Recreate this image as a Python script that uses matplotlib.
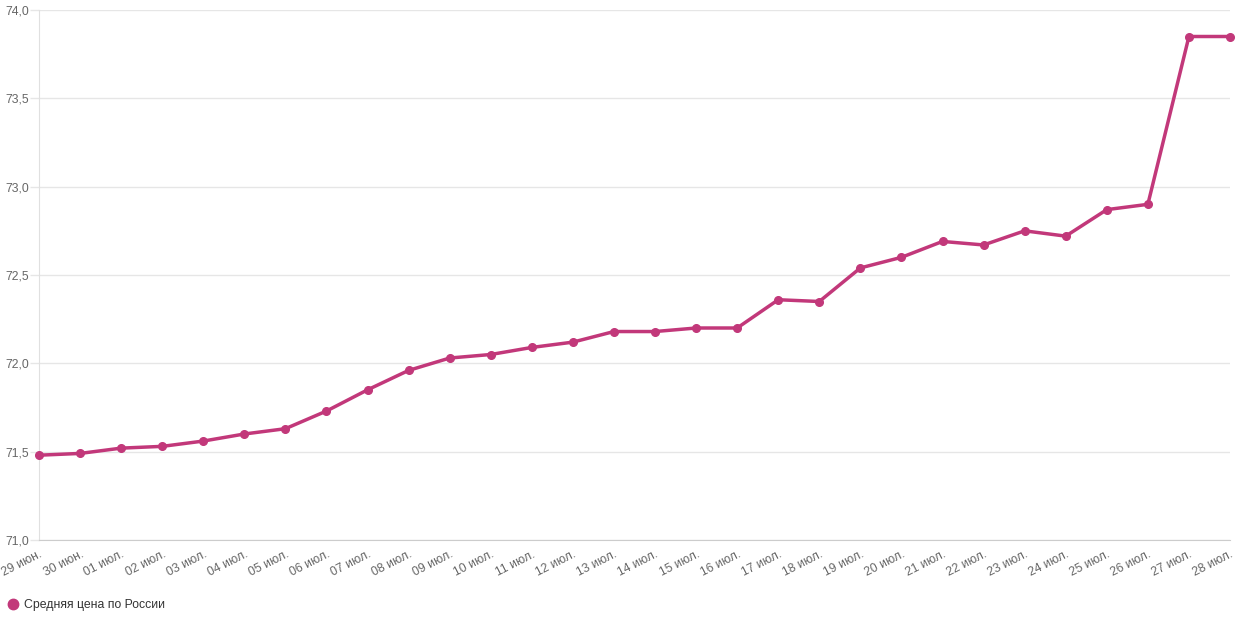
import matplotlib
matplotlib.use("Agg")
import matplotlib.pyplot as plt
from matplotlib.lines import Line2D

dates = ["29 июн.", "30 июн.", "01 июл.", "02 июл.", "03 июл.", "04 июл.", "05 июл.",
         "06 июл.", "07 июл.", "08 июл.", "09 июл.", "10 июл.", "11 июл.", "12 июл.",
         "13 июл.", "14 июл.", "15 июл.", "16 июл.", "17 июл.", "18 июл.", "19 июл.",
         "20 июл.", "21 июл.", "22 июл.", "23 июл.", "24 июл.", "25 июл.", "26 июл.",
         "27 июл.", "28 июл."]
prices = [71.48, 71.49, 71.52, 71.53, 71.56, 71.60, 71.63, 71.73, 71.85, 71.96,
          72.03, 72.05, 72.09, 72.12, 72.18, 72.18, 72.20, 72.20, 72.36, 72.35,
          72.54, 72.60, 72.69, 72.67, 72.75, 72.72, 72.87, 72.90, 73.85, 73.85]
yticks = [71.0, 71.5, 72.0, 72.5, 73.0, 73.5, 74.0]
series_name = "Средняя цена по России"

plt.rcParams['font.family'] = ['Liberation Sans', 'DejaVu Sans']
color = '#c2387a'
fs = 8.8

fig = plt.figure(figsize=(12.4, 6.2), dpi=100)
ax = fig.add_axes([39/1240, 80/620, (1230-39)/1240, 530/620])
x = list(range(len(prices)))
ax.plot(x, prices, color=color, lw=2.5, marker='o', ms=5.5, clip_on=False, zorder=3)
ax.set_xlim(0, len(prices) - 1)
ax.set_ylim(71.0, 74.0)
ax.set_yticks(yticks)
ax.set_yticklabels([f"{v:.1f}".replace('.', ',') for v in yticks])
ax.set_xticks(x)
ax.set_xticklabels(dates, rotation=27, ha='right', rotation_mode='anchor')
ax.grid(axis='y', color='#e6e6e6', lw=1)
ax.set_axisbelow(True)
for s in ['top', 'right']:
    ax.spines[s].set_visible(False)
ax.spines['left'].set_color('#e0e0e0')
ax.spines['bottom'].set_color('#cccccc')
ax.tick_params(axis='y', length=6.5, color='#e6e6e6', width=1, labelsize=fs,
               labelcolor='#666666', pad=0.5)
ax.tick_params(axis='x', length=0, labelsize=fs, labelcolor='#666666', pad=6)

fig.legend(handles=[Line2D([], [], color=color, marker='o', ls='none', ms=7.5)],
           labels=[series_name], loc='lower left', bbox_to_anchor=(0.002, 0.008),
           frameon=False, fontsize=fs, handletextpad=0.25, handlelength=1.2,
           labelcolor='#333333', borderaxespad=0.0, borderpad=0.3)
fig.savefig("out.png", dpi=100)
